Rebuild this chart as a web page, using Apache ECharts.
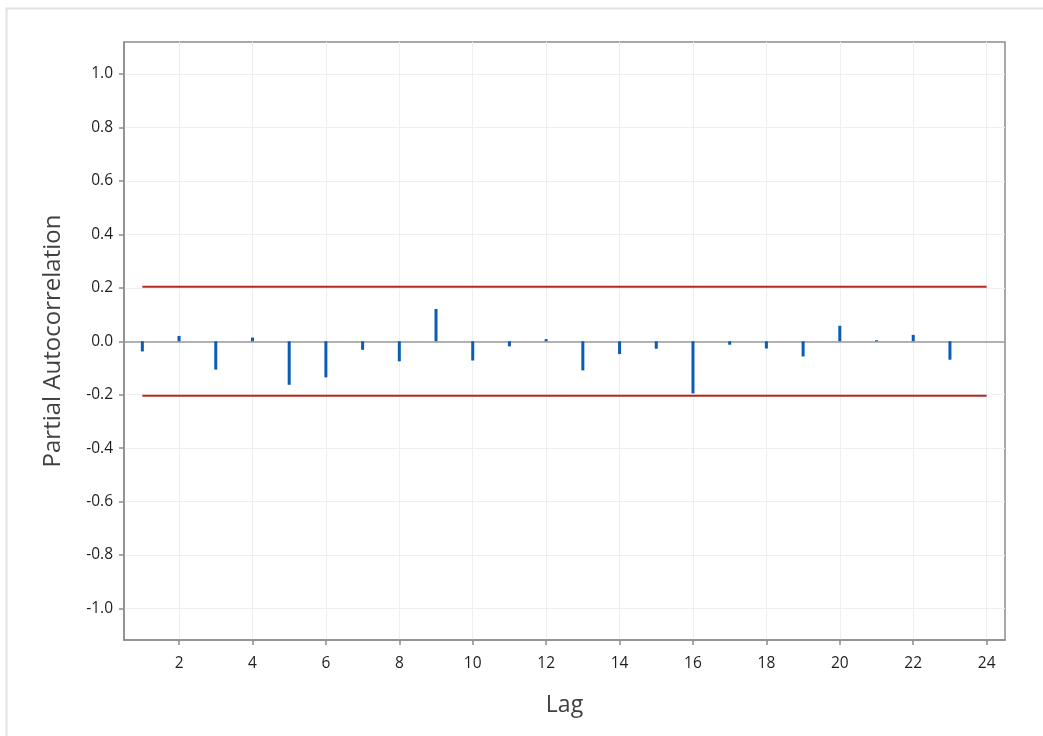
<!DOCTYPE html>
<html>
<head>
<meta charset="utf-8">
<title>Partial Autocorrelation Function</title>
<script src="https://cdn.jsdelivr.net/npm/echarts@6/dist/echarts.min.js"></script>
<style>
  html, body { margin: 0; padding: 0; background: #ffffff; }
  #chart { width: 1043px; height: 736px; }
</style>
</head>
<body>
<div id="chart"></div>
<script>
// Lags and their partial autocorrelation estimates
const lags = [1, 2, 3, 4, 5, 6, 7, 8, 9, 10, 11, 12, 13, 14, 15, 16, 17, 18, 19, 20, 21, 22, 23];
const pacf = [-0.038, 0.02, -0.106, 0.014, -0.163, -0.135, -0.032, -0.075, 0.121, -0.072, -0.019, 0.008,
              -0.109, -0.048, -0.028, -0.195, -0.013, -0.027, -0.057, 0.058, 0.004, 0.024, -0.069];

// Significance limits (±2/sqrt(n)) drawn from lag 1 to lag 24
const limitLags = [1, 24];
const upperLimit = 0.204;
const lowerLimit = -0.204;

// Tick positions
const xTicks = [2, 4, 6, 8, 10, 12, 14, 16, 18, 20, 22, 24];
const yTicks = [-1.0, -0.8, -0.6, -0.4, -0.2, 0.0, 0.2, 0.4, 0.6, 0.8, 1.0];

const chart = echarts.init(document.getElementById('chart'), null, { renderer: 'canvas' });

const font = '"Open Sans", "Noto Sans", "DejaVu Sans", sans-serif';
const axisGrey = '#8c8c8c';

const option = {
  backgroundColor: '#ffffff',
  animation: false,
  graphic: [{
    type: 'rect',
    left: 4,
    top: 6,
    shape: { width: 1100, height: 800 },
    style: { fill: 'none', stroke: '#e2e2e2', lineWidth: 2 },
    silent: true,
    z: -10
  }],
  grid: {
    left: 124, right: 38, top: 42, bottom: 96,
    show: true,
    borderColor: axisGrey,
    borderWidth: 1.5,
    backgroundColor: 'transparent'
  },
  xAxis: {
    type: 'value',
    min: 0.5,
    max: 24.5,
    name: 'Lag',
    nameLocation: 'middle',
    nameGap: 54,
    nameTextStyle: { fontFamily: font, fontSize: 23, color: '#404040' },
    axisLine: { show: true, onZero: false, lineStyle: { color: axisGrey, width: 1.5 } },
    axisTick: { show: true, length: 5, customValues: xTicks, lineStyle: { color: axisGrey, width: 1.5 } },
    axisLabel: {
      customValues: xTicks,
      margin: 16,
      fontFamily: font, fontSize: 15.5, color: '#1e1e1e',
      formatter: v => String(Math.round(v))
    },
    splitLine: { show: true, lineStyle: { color: '#efefef', width: 1 } }
  },
  yAxis: {
    type: 'value',
    min: -1.118,
    max: 1.12,
    name: 'Partial Autocorrelation',
    nameLocation: 'middle',
    nameGap: 59,
    nameRotate: 90,
    nameTextStyle: { fontFamily: font, fontSize: 24, color: '#404040' },
    axisLine: { show: true, onZero: false, lineStyle: { color: axisGrey, width: 1.5 } },
    axisTick: { show: true, length: 5, customValues: yTicks, lineStyle: { color: axisGrey, width: 1.5 } },
    axisLabel: {
      customValues: yTicks,
      margin: 11,
      fontFamily: font, fontSize: 15.5, color: '#1e1e1e',
      formatter: v => (Math.abs(v) < 1e-9 ? 0 : v).toFixed(1)
    },
    splitLine: { show: true, lineStyle: { color: '#efefef', width: 1 } }
  },
  series: [
    {
      name: 'PACF',
      type: 'bar',
      barWidth: 3,
      itemStyle: { color: '#0b5db2' },
      data: lags.map((l, i) => [l, pacf[i]]),
      markLine: {
        silent: true,
        symbol: 'none',
        label: { show: false },
        lineStyle: { color: '#9a9a9a', width: 1.5, type: 'solid' },
        data: [{ yAxis: 0 }],
        z: 1
      },
      z: 3
    },
    {
      name: 'Upper limit',
      type: 'line',
      symbol: 'none',
      lineStyle: { color: '#b22a22', width: 2 },
      data: limitLags.map(l => [l, upperLimit]),
      z: 4
    },
    {
      name: 'Lower limit',
      type: 'line',
      symbol: 'none',
      lineStyle: { color: '#b22a22', width: 2 },
      data: limitLags.map(l => [l, lowerLimit]),
      z: 4
    }
  ]
};

chart.setOption(option);
</script>
</body>
</html>
